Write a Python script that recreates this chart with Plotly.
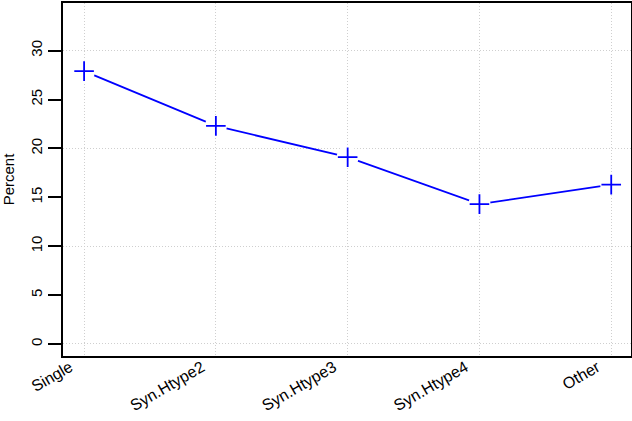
import plotly.graph_objects as go

categories = ["Single", "Syn.Htype2", "Syn.Htype3", "Syn.Htype4", "Other"]
percent = [27.9, 22.3, 19.1, 14.3, 16.3]

FONT = "Liberation Sans, Arial, sans-serif"
BLUE = "#0000FF"
GRID = "#cfcfcf"
GDASH = "1px,2px"
xpos = list(range(len(categories)))
YR = [-1.23, 34.87]

fig = go.Figure()
# line on main subplot
fig.add_trace(go.Scatter(x=xpos, y=percent, mode="lines",
                         line=dict(color=BLUE, width=1.8), hoverinfo="skip", showlegend=False))
# white gaps + crosses on overlay subplot (drawn above the line)
fig.add_trace(go.Scatter(x=xpos, y=percent, mode="markers", yaxis="y2",
                         marker=dict(symbol="circle", size=22, color="white", line=dict(width=0)),
                         hoverinfo="skip", showlegend=False))
fig.add_trace(go.Scatter(x=xpos, y=percent, mode="markers", yaxis="y2",
                         marker=dict(symbol="cross-thin", size=14, line=dict(color=BLUE, width=1.8)),
                         showlegend=False))

fig.update_layout(
    width=632, height=421,
    margin=dict(l=63, r=1, t=3, b=65, autoexpand=False),
    paper_bgcolor="white", plot_bgcolor="white",
    font=dict(family=FONT, size=15, color="black"),
    xaxis=dict(range=[-0.16, 4.15], tickvals=xpos, ticktext=categories, tickangle=-30,
               showgrid=True, gridcolor=GRID, griddash=GDASH, gridwidth=1, automargin=False,
               zeroline=False, showline=True, linecolor="black", linewidth=2, mirror=True,
               ticks="", tickfont=dict(size=16, family=FONT),
               ticklabelshift=-14, ticklabelstandoff=-6),
    yaxis=dict(range=YR, tickvals=[0, 5, 10, 15, 20, 25, 30], tickangle=-90,
               showgrid=False, zeroline=False, showline=True, linecolor="black", linewidth=2,
               mirror=True, ticks="outside", ticklen=13, tickwidth=2, tickcolor="black",
               tickfont=dict(size=15, family=FONT), automargin=False,
               title=dict(text="Percent", font=dict(size=15, family=FONT))),
    yaxis2=dict(range=YR, overlaying="y", dtick=10, showgrid=True, automargin=False,
                gridcolor=GRID, griddash=GDASH, gridwidth=1, showticklabels=False,
                zeroline=False, showline=False, ticks=""),
)

fig.write_html("out.html", config={"displayModeBar": False},
               post_script="document.body.style.margin='0';document.body.style.overflow='hidden';")
